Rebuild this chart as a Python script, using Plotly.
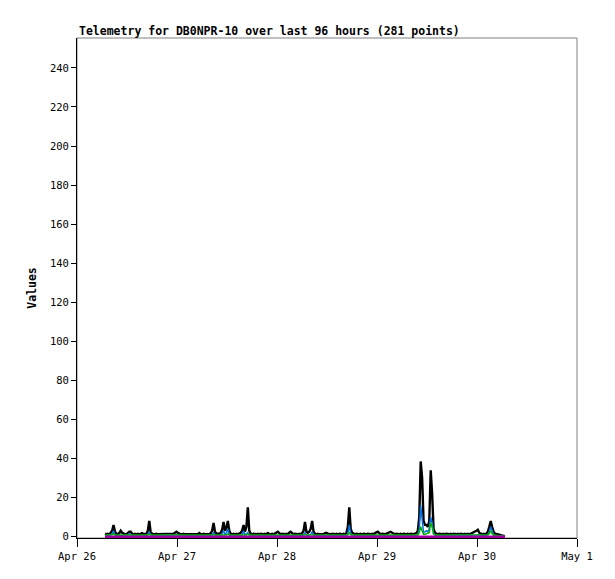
import pandas as pd
import plotly.graph_objects as go

TITLE = "Telemetry for DB0NPR-10 over last 96 hours (281 points)"
Y_LABEL = "Values"
START = "2024-04-26 06:43"
N_POINTS = 281

black_vals = [
    1.5,1.2,1.5,1.2,2,3,6,2.5,1.5,1.2,1.8,3,2,1.5,1.2,1.2,1.8,2.5,2.5,1.5,
    1.2,1.5,1.2,1.5,1.2,1.5,1.8,1.2,1.5,1.5,3,8,2,1.5,1.2,1.2,1.5,1.2,1.2,1.5,
    1.2,1.2,1.5,1.2,1.2,1.5,1.2,1.2,1.5,2,2.5,2,1.5,1.2,1.2,1.5,1.2,1.2,1.5,1.2,
    1.2,1.5,1.2,1.2,1.5,1.2,1.8,1.2,1.2,1.5,1.2,1.2,1.5,1.2,1.8,3,7,2.5,1.5,1.5,
    1.5,2,3.5,7.5,3,4.5,8,3,1.5,1.2,1.5,1.2,1.5,1.2,1.5,2,3,6,2.5,5,
    15,3,1.5,1.2,1.5,1.2,1.2,1.5,1.2,1.5,1.2,1.2,1.5,1.2,1.8,1.2,1.2,1.5,1.2,1.8,
    2,2.5,1.8,1.2,1.5,1.2,1.2,1.5,1.2,2,2.5,1.8,1.2,1.5,1.2,1.2,1.5,1.2,1.8,3,
    7.5,2.5,2,2.5,4,8,2.5,1.5,1.2,1.5,1.2,1.2,1.5,1.2,1.8,2,1.5,1.2,1.2,1.5,
    1.2,1.2,1.5,1.2,1.5,1.2,1.2,1.5,1.2,1.8,5,15,4,2,1.5,1.2,1.5,1.2,1.2,1.5,
    1.2,1.5,1.2,1.2,1.5,1.2,1.2,1.5,1.2,1.8,2,2.5,1.8,1.2,1.5,1.2,1.2,1.5,1.8,2,
    2.5,2,1.5,1.2,1.5,1.2,1.2,1.5,1.2,1.5,1.2,1.2,1.5,1.2,1.5,1.2,1.2,1.5,1.8,3,
    10,38.5,30,8,6,6,5,8,34,22,4,2,1.5,1.2,1.5,1.2,1.2,1.5,1.2,1.5,
    1.2,1.2,1.5,1.2,1.5,1.2,1.2,1.5,1.2,1.5,1.2,1.2,1.5,1.2,1.5,1.2,1.5,1.8,2,2.5,
    3,3.5,2,1.5,1.2,1.5,1.2,1.5,2.5,5,8,5,2.5,1.5,1.2,1.2,1,0.8,0.5,0.5,
    0.3,
]

blue_vals = [
    0.5,0.5,0.5,0.5,0.8,1.5,3,1,0.5,0.5,0.5,0.8,0.5,0.5,0.5,0.5,0.8,1.5,1,0.5,
    0.5,0.5,0.5,0.5,0.5,0.5,0.5,0.5,0.5,0.5,1,2.5,0.8,0.5,0.5,0.5,0.5,0.5,0.5,0.5,
    0.5,0.5,0.5,0.5,0.5,0.5,0.5,0.5,0.5,0.8,1.2,0.8,0.5,0.5,0.5,0.5,0.5,0.5,0.5,0.5,
    0.5,0.5,0.5,0.5,0.5,0.5,0.5,0.5,0.5,0.5,0.5,0.5,0.5,0.5,0.5,1,2,0.8,0.5,0.5,
    0.5,0.5,1.5,3,1,2,4,1,0.5,0.5,0.5,0.5,0.5,0.5,0.5,0.5,1,3,0.8,1.5,
    2,0.8,0.5,0.5,0.5,0.5,0.5,0.5,0.5,0.5,0.5,0.5,0.5,0.5,0.5,0.5,0.5,0.5,0.5,0.5,
    0.5,0.8,0.5,0.5,0.5,0.5,0.5,0.5,0.5,0.5,0.8,0.5,0.5,0.5,0.5,0.5,0.5,0.5,0.5,1,
    2,0.8,0.5,0.8,1.2,2.5,0.8,0.5,0.5,0.5,0.5,0.5,0.5,0.5,0.5,0.5,0.5,0.5,0.5,0.5,
    0.5,0.5,0.5,0.5,0.5,0.5,0.5,0.5,0.5,0.5,1.5,6,1.5,0.5,0.5,0.5,0.5,0.5,0.5,0.5,
    0.5,0.5,0.5,0.5,0.5,0.5,0.5,0.5,0.5,0.5,0.5,0.8,0.5,0.5,0.5,0.5,0.5,0.5,0.5,0.5,
    0.8,0.5,0.5,0.5,0.5,0.5,0.5,0.5,0.5,0.5,0.5,0.5,0.5,0.5,0.5,0.5,0.5,0.5,0.5,1,
    4,16,8,2,2.5,3,2.5,4,10,7,1.5,0.8,0.5,0.5,0.5,0.5,0.5,0.5,0.5,0.5,
    0.5,0.5,0.5,0.5,0.5,0.5,0.5,0.5,0.5,0.5,0.5,0.5,0.5,0.5,0.5,0.5,0.5,0.5,0.5,0.5,
    0.8,1,0.8,0.5,0.5,0.5,0.5,0.5,1,2.5,5,3,1,0.5,0.5,0.3,0.2,0.2,0.2,0.2,
    0.2,
]

green_vals = [
    0.8,0.8,0.8,0.8,0.8,1,1.5,0.8,0.8,0.8,0.8,0.8,0.8,0.8,0.8,0.8,0.8,1,0.8,0.8,
    0.8,0.8,0.8,0.8,0.8,0.8,0.8,0.8,0.8,0.8,0.8,1.2,0.8,0.8,0.8,0.8,0.8,0.8,0.8,0.8,
    0.8,0.8,0.8,0.8,0.8,0.8,0.8,0.8,0.8,0.8,1,0.8,0.8,0.8,0.8,0.8,0.8,0.8,0.8,0.8,
    0.8,0.8,0.8,0.8,0.8,0.8,0.8,0.8,0.8,0.8,0.8,0.8,0.8,0.8,0.8,0.8,1,0.8,0.8,0.8,
    0.8,0.8,0.8,1,0.8,0.8,1.5,0.8,0.8,0.8,0.8,0.8,0.8,0.8,0.8,0.8,0.8,1,0.8,0.8,
    1.5,0.8,0.8,0.8,0.8,0.8,0.8,0.8,0.8,0.8,0.8,0.8,0.8,0.8,0.8,0.8,0.8,0.8,0.8,0.8,
    0.8,0.8,0.8,0.8,0.8,0.8,0.8,0.8,0.8,0.8,0.8,0.8,0.8,0.8,0.8,0.8,0.8,0.8,0.8,0.8,
    1,0.8,0.8,0.8,0.8,1,0.8,0.8,0.8,0.8,0.8,0.8,0.8,0.8,0.8,0.8,0.8,0.8,0.8,0.8,
    0.8,0.8,0.8,0.8,0.8,0.8,0.8,0.8,0.8,0.8,1,2,1,0.8,0.8,0.8,0.8,0.8,0.8,0.8,
    0.8,0.8,0.8,0.8,0.8,0.8,0.8,0.8,0.8,0.8,0.8,0.8,0.8,0.8,0.8,0.8,0.8,0.8,0.8,0.8,
    0.8,0.8,0.8,0.8,0.8,0.8,0.8,0.8,0.8,0.8,0.8,0.8,0.8,0.8,0.8,0.8,0.8,0.8,0.8,0.8,
    2,5,3,1.2,1.2,1.5,1.5,2,7,5,1.5,0.8,0.8,0.8,0.8,0.8,0.8,0.8,0.8,0.8,
    0.8,0.8,0.8,0.8,0.8,0.8,0.8,0.8,0.8,0.8,0.8,0.8,0.8,0.8,0.8,0.8,0.8,0.8,0.8,0.8,
    0.8,0.8,0.8,0.8,0.8,0.8,0.8,0.8,1,1.5,3,1.5,0.8,0.8,0.5,0.3,0.3,0.3,0.3,0.3,
    0.3,
]

magenta_vals = [
    0,0,0,0,0,0,0,0,0,0,0,0,0,0,0,0,0,0,0,0,
    0,0,0,0,0,0,0,0,0,0,0,0,0,0,0,0,0,0,0,0,
    0,0,0,0,0,0,0,0,0,0,0,0,0,0,0,0,0,0,0,0,
    0,0,0,0,0,0,0,0,0,0,0,0,0,0,0,0,0,0,0,0,
    0,0,0,0,0,0,0,0,0,0,0,0,0,0,0,0,0,0,0,0,
    0,0,0,0,0,0,0,0,0,0,0,0,0,0,0,0,0,0,0,0,
    0,0,0,0,0,0,0,0,0,0,0,0,0,0,0,0,0,0,0,0,
    0,0,0,0,0,0,0,0,0,0,0,0,0,0,0,0,0,0,0,0,
    0,0,0,0,0,0,0,0,0,0,0,0,0,0,0,0,0,0,0,0,
    0,0,0,0,0,0,0,0,0,0,0,0,0,0,0,0,0,0,0,0,
    0,0,0,0,0,0,0,0,0,0,0,0,0,0,0,0,0,0,0,0,
    0,0,0,0,0,0,0,0,0,0,0,0,0,0,0,0,0,0,0,0,
    0,0,0,0,0,0,0,0,0,0,0,0,0,0,0,0,0,0,0,0,
    0,0,0,0,0,0,0,0,0,0,0,0,0,0,0,0,0,0,0,0,
    0,
]

x_tick_vals = ["2024-04-26", "2024-04-27", "2024-04-28", "2024-04-29", "2024-04-30", "2024-05-01"]
x_tick_text = ["Apr 26", "Apr 27", "Apr 28", "Apr 29", "Apr 30", "May 1"]
y_tick_vals = [0, 20, 40, 60, 80, 100, 120, 140, 160, 180, 200, 220, 240]

times = pd.date_range(START, periods=N_POINTS, freq=pd.Timedelta(hours=96) / (N_POINTS - 1))

fig = go.Figure()
series = [
    (black_vals, "black", 2.4),
    (blue_vals, "#0070e0", 1.5),
    (green_vals, "#00b000", 1.5),
    (magenta_vals, "#a000a0", 2.5),
]
for vals, color, w in series:
    assert len(vals) == N_POINTS
    fig.add_trace(go.Scatter(x=times, y=vals, mode="lines",
                             line=dict(color=color, width=w), hoverinfo="skip"))

mono = "DejaVu Sans Mono"
fig.update_layout(
    width=607, height=571,
    margin=dict(l=69, r=38, t=30, b=41, pad=0, autoexpand=False),
    paper_bgcolor="white", plot_bgcolor="white",
    showlegend=False,
    font=dict(family=mono, size=11, color="black"),
    shapes=[dict(type="rect", xref="paper", yref="paper", x0=0, y0=0, x1=1, y1=1,
                 line=dict(color="#808080", width=1), layer="below")],
    annotations=[dict(text="<b>" + TITLE + "</b>", xref="paper", yref="paper",
                      x=0, y=1, xanchor="left", yanchor="bottom", yshift=-2,
                      showarrow=False, font=dict(family=mono, size=11.5, color="black"))],
)
fig.update_xaxes(
    type="date", range=["2024-04-26", "2024-05-01"],
    tickvals=x_tick_vals, ticktext=x_tick_text,
    ticks="outside", ticklen=8, tickcolor="black", tickwidth=1,
    showline=True, linecolor="black", linewidth=1,
    showgrid=False, zeroline=False, automargin=False,
    tickfont=dict(family=mono, size=10.5, color="black"),
)
fig.update_yaxes(
    range=[-0.7, 255.3], tickvals=y_tick_vals,
    ticks="outside", ticklen=5, tickcolor="black", tickwidth=1,
    showline=True, linecolor="black", linewidth=1,
    showgrid=False, zeroline=False, automargin=False,
    tickfont=dict(family=mono, size=10.5, color="black"),
    title=dict(text="<b>" + Y_LABEL + "</b>", standoff=10,
               font=dict(family=mono, size=11.5, color="black")),
)

fig.write_html("out.html")
